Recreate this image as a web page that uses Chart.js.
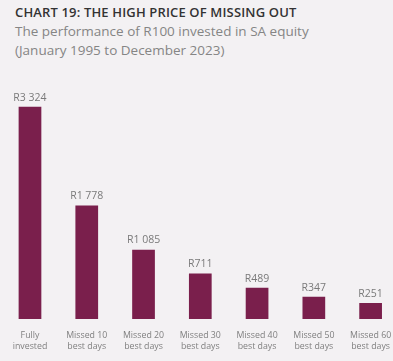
<!DOCTYPE html>
<html>
<head>
<meta charset="utf-8">
<script src="https://cdn.jsdelivr.net/npm/chart.js@4"></script>
<style>
  html, body { margin: 0; padding: 0; background: #f3f1f3; overflow: hidden; }
  body { width: 393px; height: 361px; position: relative; font-family: "Open Sans", sans-serif; }
  .title { position: absolute; left: 15px; top: 3px; font-size: 13px; font-weight: 600; color: #333; letter-spacing: 0.15px; }
  .sub { position: absolute; left: 15px; top: 22px; font-size: 13.5px; color: #858585; line-height: 19px; }
  #wrap { position: absolute; left: 0; top: 0; width: 400px; height: 361px; }
</style>
</head>
<body>
<div class="title">CHART 19: THE HIGH PRICE OF MISSING OUT</div>
<div class="sub">The performance of R100 invested in SA equity<br>(January 1995 to December 2023)</div>
<div id="wrap"><canvas id="chart"></canvas></div>
<script>
const categories = [
  ['Fully', 'invested'],
  ['Missed 10', 'best days'],
  ['Missed 20', 'best days'],
  ['Missed 30', 'best days'],
  ['Missed 40', 'best days'],
  ['Missed 50', 'best days'],
  ['Missed 60', 'best days']
];
const values = [3324, 1778, 1085, 711, 489, 347, 251];
const valueLabels = ['R3 324', 'R1 778', 'R1 085', 'R711', 'R489', 'R347', 'R251'];

// draws the R-values above each bar
const barLabels = {
  id: 'barLabels',
  afterDatasetsDraw(chart) {
    const { ctx } = chart;
    const meta = chart.getDatasetMeta(0);
    ctx.save();
    ctx.fillStyle = '#7a7a7a';
    ctx.font = '10.5px "Open Sans"';
    ctx.textAlign = 'center';
    ctx.textBaseline = 'bottom';
    meta.data.forEach((bar, i) => {
      ctx.fillText(valueLabels[i], bar.x, bar.y - 4);
    });
    ctx.restore();
  }
};

new Chart(document.getElementById('chart'), {
  type: 'bar',
  data: {
    labels: categories,
    datasets: [{
      data: values,
      backgroundColor: '#7a1f4c',
      barPercentage: 0.8,
      categoryPercentage: 0.5
    }]
  },
  options: {
    responsive: true,
    maintainAspectRatio: false,
    animation: false,
    layout: { padding: { top: 102, left: 1.6, right: 1, bottom: 6 } },
    plugins: {
      legend: { display: false },
      tooltip: { enabled: false }
    },
    scales: {
      y: { display: false, min: 0, max: 3400 },
      x: {
        grid: { display: false },
        border: { display: false },
        ticks: {
          color: '#808080',
          font: { family: 'Open Sans', size: 8.8, lineHeight: 1.25 },
          maxRotation: 0,
          autoSkip: false,
          padding: 3
        }
      }
    }
  },
  plugins: [barLabels]
});
</script>
</body>
</html>
